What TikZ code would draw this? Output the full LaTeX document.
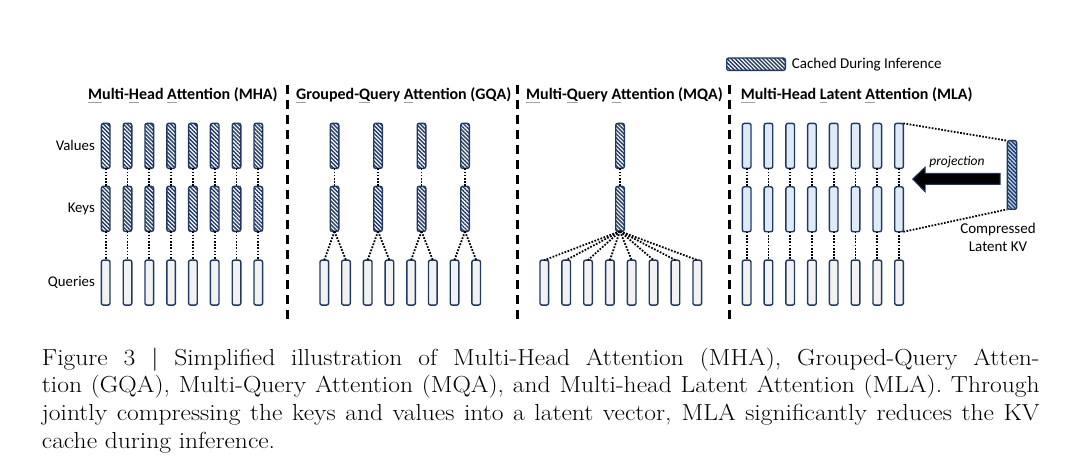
\documentclass[tikz,border=0pt]{standalone}
\usepackage{fontspec}
\newfontfamily\carl{Carlito}
\usetikzlibrary{patterns.meta}
\definecolor{navy}{RGB}{32,56,100}
\definecolor{qgray}{RGB}{242,242,242}
\definecolor{lblue}{RGB}{222,235,247}
\definecolor{cblue}{RGB}{189,215,238}
\definecolor{ulgray}{RGB}{160,160,160}
\newsavebox\ulbox
\newcommand\firstul[1]{\sbox\ulbox{#1}\rlap{\textcolor{ulgray}{\rule[-3.4pt]{\wd\ulbox}{1.8pt}}}\usebox\ulbox}
\tikzset{
  box/.style={draw=navy, line width=1.4pt, rounded corners=2pt, minimum width=8.6pt, minimum height=45pt, inner sep=0pt, outer sep=0pt},
  qbox/.style={box, fill=qgray},
  lbox/.style={box, fill=lblue},
  hbox/.style={box, preaction={fill=white}, pattern={Lines[angle=-45,distance=2.8pt,line width=1.35pt]}, pattern color=navy},
  dotc/.style={line width=1.8pt, dash pattern=on 1.7pt off 1.5pt},
  sepline/.style={line width=3pt, dash pattern=on 9pt off 6pt},
  title/.style={font=\carl\bfseries\fontsize{16}{19}\selectfont, inner sep=0pt},
  lab/.style={font=\carl\fontsize{14.8}{17}\selectfont, inner sep=0pt},
}
\begin{document}
\begin{tikzpicture}[x=1pt,y=-1pt]
\useasboundingbox (0,0) rectangle (1080,476);

% separators
\draw[sepline] (287.7,85) -- (287.7,322);
\draw[sepline] (517.8,85) -- (517.8,322);
\draw[sepline] (729.7,85) -- (729.7,322);

% titles
\node[title, anchor=base west] (tMHA) at (88,100) {\firstul{M}ulti-\firstul{H}ead \firstul{A}ttention (MHA)};
\node[title, anchor=base west] (tGQA) at (296,100) {\firstul{G}rouped-\firstul{Q}uery \firstul{A}ttention (GQA)};
\node[title, anchor=base west] (tMQA) at (526,100) {\firstul{M}ulti-\firstul{Q}uery \firstul{A}ttention (MQA)};
\node[title, anchor=base west] (tMLA) at (740.7,100) {\firstul{M}ulti-Head \firstul{L}atent \firstul{A}ttention (MLA)};

% row labels
\node[lab, anchor=east] (lV) at (95,145.8) {Values};
\node[lab, anchor=east] (lK) at (95,209) {Keys};
\node[lab, anchor=east] (lQ) at (95,282.3) {Queries};

% legend
\node[hbox, minimum width=58.6pt, minimum height=12.3pt] (leg) at (756,64.2) {};
\node[lab, font=\carl\fontsize{15}{18}\selectfont, anchor=west] (legt) at (791.7,64.3) {Cached During Inference};

% MHA
\foreach \i in {1,...,8}{
  \pgfmathsetmacro\xx{105.7+21.8*(\i-1)}
  \node[hbox] (mhaV\i) at (\xx,145.85) {};
  \node[hbox] (mhaK\i) at (\xx,208.85) {};
  \node[qbox] (mhaQ\i) at (\xx,282.6) {};
  \draw[dotc] (mhaV\i.south) -- (mhaK\i.north);
  \draw[dotc] (mhaK\i.south) -- (mhaQ\i.north);
}

% GQA
\foreach \i in {1,...,8}{
  \pgfmathsetmacro\xx{324.3+21.7*(\i-1)}
  \node[qbox] (gqaQ\i) at (\xx,282.6) {};
}
\foreach \j in {1,...,4}{
  \pgfmathsetmacro\xx{334.5+43.5*(\j-1)}
  \pgfmathtruncatemacro\qa{2*\j-1}
  \pgfmathtruncatemacro\qb{2*\j}
  \node[hbox] (gqaV\j) at (\xx,145.85) {};
  \node[hbox] (gqaK\j) at (\xx,208.85) {};
  \draw[dotc] (gqaV\j.south) -- (gqaK\j.north);
  \draw[dotc] (gqaK\j.south) -- (gqaQ\qa.north);
  \draw[dotc] (gqaK\j.south) -- (gqaQ\qb.north);
}

% MQA
\node[hbox] (mqaV) at (620,145.85) {};
\node[hbox] (mqaK) at (620,208.85) {};
\draw[dotc] (mqaV.south) -- (mqaK.north);
\foreach \i in {1,...,8}{
  \pgfmathsetmacro\xx{544.3+21.85*(\i-1)}
  \node[qbox] (mqaQ\i) at (\xx,282.6) {};
  \draw[dotc] (mqaK.south) -- (mqaQ\i.north);
}

% MLA
\foreach \i in {1,...,8}{
  \pgfmathsetmacro\xx{746.7+21.76*(\i-1)}
  \node[lbox] (mlaV\i) at (\xx,145.85) {};
  \node[lbox] (mlaK\i) at (\xx,209.3) {};
  \node[qbox] (mlaQ\i) at (\xx,282.6) {};
  \draw[dotc] (mlaV\i.south) -- (mlaK\i.north);
  \draw[dotc] (mlaK\i.south) -- (mlaQ\i.north);
}

% compressed latent KV
\node[box, minimum width=9.2pt, minimum height=68.6pt, preaction={fill=cblue}, pattern={Lines[angle=-45,distance=2.8pt,line width=1.35pt]}, pattern color=navy] (ckv) at (1012,175) {};
\draw[dotc] (mlaV8.north east) -- (ckv.north west);
\draw[dotc] (mlaK8.south east) -- (ckv.south west);

% projection arrow
\draw[draw=navy, line width=1pt, fill=black, line join=miter]
  (912.7,179) -- (925,167.3) -- (925,173.5) -- (1000,173.5) -- (1000,184.5) -- (925,184.5) -- (925,191.7) -- cycle;
\node[lab, font=\carl\itshape\fontsize{13.5}{16}\selectfont] (proj) at (957,161.7) {projection};
\node[lab, font=\carl\fontsize{15}{18}\selectfont, align=center] (ckvl) at (998,237) {Compressed\\Latent KV};

% caption
\begin{scope}[shift={(41.7,365)}, xscale=1.1]
\node[transform shape, anchor=base west, inner sep=0pt, text width=907pt, align=justify, font=\fontsize{23.2}{27.8}\selectfont] (cap) at (0,0)
 {Figure 3 | Simplified illustration of Multi-Head Attention (MHA), Grouped-Query Atten-\linebreak tion (GQA), Multi-Query Attention (MQA), and Multi-head Latent Attention (MLA). Through\linebreak jointly compressing the keys and values into a latent vector, MLA significantly reduces the KV\linebreak cache during inference.};
\end{scope}
\end{tikzpicture}
\end{document}
